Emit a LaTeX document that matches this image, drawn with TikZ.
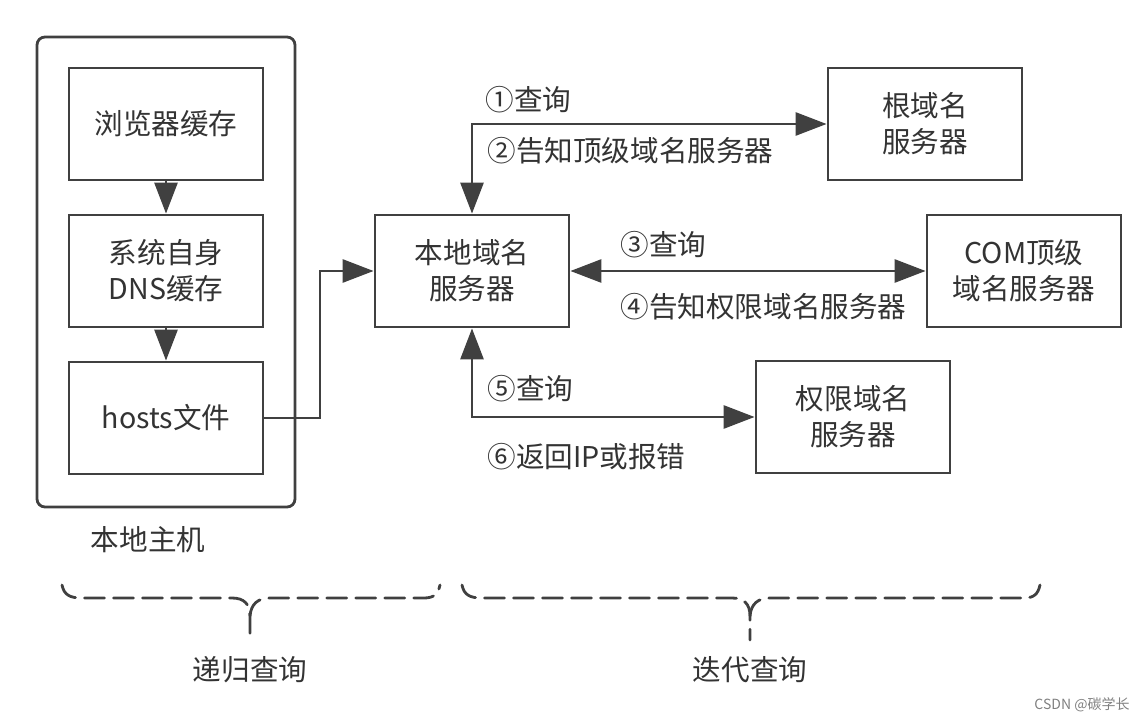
\documentclass[tikz,border=0pt]{standalone}
\usepackage{fontspec}
\setmainfont{Noto Sans CJK SC}
\usetikzlibrary{arrows.meta}

\definecolor{linegray}{HTML}{404040}
\definecolor{textgray}{HTML}{333333}

\begin{document}
\begin{tikzpicture}[x=0.5pt, y=-0.5pt,
    box/.style={draw=linegray, line width=1.4pt, minimum width=97pt, minimum height=56pt,
      inner sep=0pt, align=center, text=textgray, font=\fontsize{14.3}{18}\selectfont},
    lbl/.style={anchor=west, inner sep=0pt, text=textgray, font=\fontsize{14.3}{18}\selectfont},
    arr/.style={line width=1.4pt, draw=linegray, -{Triangle[length=15.5pt,width=11.5pt]}},
    dbl/.style={line width=1.4pt, draw=linegray, {Triangle[length=15.5pt,width=11.5pt]}-{Triangle[length=15.5pt,width=11.5pt]}},
    brc/.style={line width=1.4pt, draw=linegray, dash pattern=on 10pt off 4.5pt, line cap=round}]

        \useasboundingbox (0,0) rectangle (1146,721);

        % local host
        \node [box, rounded corners=4pt, minimum width=129pt, minimum height=235pt] (host) at (166,272) {};
        \node [box] (browser) at (166,124) {浏览器缓存};
        \node [box] (dnscache) at (166,271) {系统自身\\DNS缓存};
        \node [box] (hosts) at (166,418) {hosts文件};
        \node [lbl, anchor=center] (hostlbl) at (148,540) {本地主机};

        \draw[arr] (browser) -- (dnscache);
        \draw[arr] (dnscache) -- (hosts);

        % servers
        \node [box] (local) at (472,271) {本地域名\\服务器};
        \node [box] (root) at (925,124) {根域名\\服务器};
        \node [box] (com) at (1024,271) {COM顶级\\域名服务器};
        \node [box] (auth) at (853,417) {权限域名\\服务器};

        \coordinate (bend) at (320,418);
        \draw[arr] (hosts.east) -- (bend) |- (local.west);

        \draw[dbl] (local.north) |- (root.west);
        \draw[dbl] (local.east) -- (com.west);
        \draw[dbl] (local.south) |- (auth.west);

        \node [lbl] (q1) at (485,100) {①查询};
        \node [lbl] (q2) at (487,151) {②告知顶级域名服务器};
        \node [lbl] (q3) at (620,245) {③查询};
        \node [lbl] (q4) at (620,307) {④告知权限域名服务器};
        \node [lbl] (q5) at (487,389) {⑤查询};
        \node [lbl] (q6) at (487,457) {⑥返回IP或报错};

        % braces
        \draw[brc] (62,585) .. controls (64,595) and (70,598) .. (82,598) -- (232,598)
          .. controls (244,598) and (250,604) .. (250,616) -- (250,640);
        \draw[brc] (250,616) .. controls (251,604) and (258,598) .. (270,598) -- (424,598)
          .. controls (434,598) and (438,594) .. (440,585);
        \draw[brc] (462,585) .. controls (464,595) and (470,598) .. (482,598) -- (732,598)
          .. controls (744,598) and (750,604) .. (750,616) -- (750,640);
        \draw[brc] (750,616) .. controls (751,604) and (758,598) .. (770,598) -- (1024,598)
          .. controls (1034,598) and (1038,594) .. (1040,585);
        \node [lbl, anchor=center] (recur) at (250,670) {递归查询};
        \node [lbl, anchor=center] (iter) at (750,670) {迭代查询};

        \node [text=gray, inner sep=0pt, font=\fontsize{7}{8}\selectfont] (mark) at (1082,705) {CSDN @碳学长};

      \end{tikzpicture}
\end{document}
